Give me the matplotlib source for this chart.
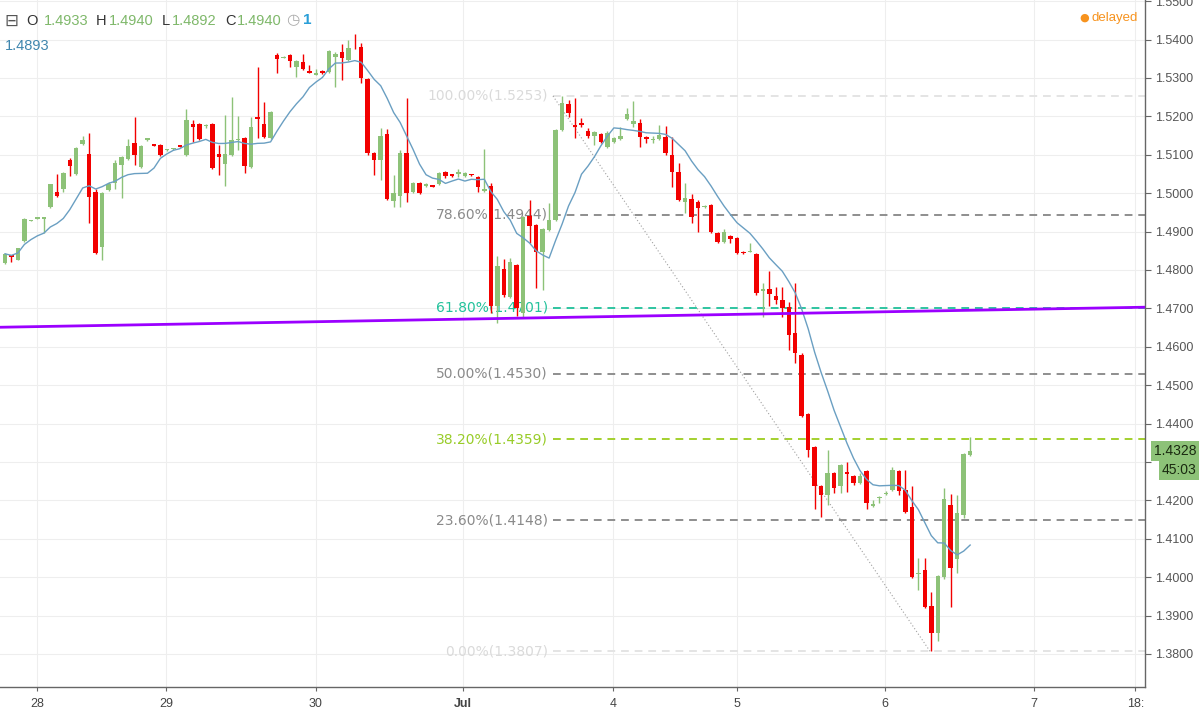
import numpy as np
import pandas as pd
import matplotlib
matplotlib.use('Agg')
import matplotlib.pyplot as plt
import matplotlib.transforms as mtransforms

# hourly candles (index 0 = first visible candle)
opens = [1.4818, 1.4839, 1.4826, 1.4875, 1.4928, 1.4933, 1.4933, 1.4964, 1.5003, 1.5011,
         1.5086, 1.5050, 1.5128, 1.5102, 1.5003, 1.4860, 1.5008, 1.5026, 1.5073, 1.5089,
         1.5131, 1.5068, 1.5138, 1.5127, 1.5125, 1.5112, 1.5114, 1.5125, 1.5099, 1.5180,
         1.5180, 1.5176, 1.5180, 1.5102, 1.5076, 1.5099, 1.5139, 1.5144, 1.5068, 1.5198,
         1.5180, 1.5144, 1.5360, 1.5352, 1.5360, 1.5329, 1.5342, 1.5318, 1.5308, 1.5318,
         1.5316, 1.5355, 1.5368, 1.5347, 1.5384, 1.5381, 1.5297, 1.5105, 1.5086, 1.5154,
         1.4980, 1.4993, 1.5105, 1.5003, 1.5026, 1.5019, 1.5021, 1.5024, 1.5055, 1.5049,
         1.5051, 1.5045, 1.5049, 1.5042, 1.5006, 1.5019, 1.4706, 1.4802, 1.4730, 1.4813,
         1.4688, 1.4940, 1.4917, 1.4847, 1.4904, 1.4930, 1.5164, 1.5232, 1.5177, 1.5183,
         1.5162, 1.5149, 1.5154, 1.5120, 1.5133, 1.5141, 1.5193, 1.5180, 1.5183, 1.5146,
         1.5139, 1.5141, 1.5146, 1.5099, 1.5055, 1.4977, 1.4985, 1.4977, 1.4964, 1.4969,
         1.4896, 1.4873, 1.4888, 1.4883, 1.4847, 1.4847, 1.4842, 1.4745, 1.4750, 1.4732,
         1.4722, 1.4704, 1.4636, 1.4579, 1.4425, 1.4339, 1.4237, 1.4214, 1.4271, 1.4237,
         1.4274, 1.4263, 1.4245, 1.4276, 1.4186, 1.4206, 1.4217, 1.4227, 1.4276, 1.4227,
         1.4183, 1.4008, 1.4019, 1.3925, 1.3855, 1.4000, 1.4188, 1.4047, 1.4162, 1.4318]
highs = [1.4844, 1.4840, 1.4858, 1.4935, 1.4930, 1.4939, 1.4939, 1.5025, 1.5050, 1.5055,
         1.5092, 1.5120, 1.5149, 1.5157, 1.5011, 1.5003, 1.5029, 1.5086, 1.5097, 1.5141,
         1.5198, 1.5125, 1.5144, 1.5128, 1.5127, 1.5116, 1.5118, 1.5126, 1.5219, 1.5190,
         1.5182, 1.5179, 1.5182, 1.5125, 1.5204, 1.5250, 1.5201, 1.5146, 1.5198, 1.5329,
         1.5237, 1.5213, 1.5365, 1.5356, 1.5362, 1.5346, 1.5362, 1.5334, 1.5323, 1.5320,
         1.5373, 1.5368, 1.5388, 1.5399, 1.5414, 1.5391, 1.5299, 1.5107, 1.5170, 1.5167,
         1.5047, 1.5112, 1.5248, 1.5029, 1.5029, 1.5027, 1.5022, 1.5055, 1.5057, 1.5050,
         1.5063, 1.5055, 1.5050, 1.5044, 1.5115, 1.5026, 1.4836, 1.4828, 1.4831, 1.4816,
         1.4941, 1.4982, 1.4920, 1.4910, 1.4974, 1.5167, 1.5253, 1.5243, 1.5248, 1.5196,
         1.5170, 1.5161, 1.5156, 1.5161, 1.5146, 1.5172, 1.5222, 1.5240, 1.5193, 1.5148,
         1.5149, 1.5177, 1.5175, 1.5146, 1.5079, 1.5026, 1.4998, 1.4982, 1.4969, 1.4971,
         1.4898, 1.4907, 1.4890, 1.4885, 1.4849, 1.4870, 1.4844, 1.4766, 1.4797, 1.4756,
         1.4756, 1.4717, 1.4766, 1.4584, 1.4427, 1.4341, 1.4240, 1.4331, 1.4273, 1.4295,
         1.4300, 1.4266, 1.4271, 1.4279, 1.4201, 1.4212, 1.4224, 1.4287, 1.4279, 1.4279,
         1.4237, 1.4050, 1.4050, 1.3961, 1.4006, 1.4232, 1.4216, 1.4214, 1.4324, 1.4365]
lows = [1.4816, 1.4821, 1.4825, 1.4873, 1.4927, 1.4932, 1.4896, 1.4962, 1.4990, 1.5003,
        1.5045, 1.5048, 1.5126, 1.4922, 1.4842, 1.4826, 1.5005, 1.5011, 1.4987, 1.5086,
        1.5073, 1.5066, 1.5137, 1.5123, 1.5097, 1.5110, 1.5113, 1.5120, 1.5097, 1.5133,
        1.5139, 1.5170, 1.5064, 1.5047, 1.5019, 1.5097, 1.5112, 1.5052, 1.5066, 1.5144,
        1.5144, 1.5142, 1.5313, 1.5351, 1.5329, 1.5302, 1.5321, 1.5313, 1.5307, 1.5311,
        1.5313, 1.5276, 1.5295, 1.5345, 1.5375, 1.5287, 1.5100, 1.5047, 1.5034, 1.4983,
        1.4964, 1.4964, 1.4977, 1.5000, 1.4998, 1.5016, 1.5016, 1.5021, 1.5039, 1.5043,
        1.5042, 1.5043, 1.5045, 1.5003, 1.5003, 1.4688, 1.4662, 1.4730, 1.4727, 1.4680,
        1.4675, 1.4870, 1.4753, 1.4748, 1.4901, 1.4927, 1.5161, 1.5198, 1.5144, 1.5172,
        1.5144, 1.5125, 1.5130, 1.5117, 1.5130, 1.5138, 1.5190, 1.5172, 1.5120, 1.5131,
        1.5131, 1.5138, 1.5099, 1.5016, 1.4980, 1.4948, 1.4922, 1.4899, 1.4962, 1.4896,
        1.4870, 1.4870, 1.4870, 1.4841, 1.4841, 1.4846, 1.4735, 1.4677, 1.4706, 1.4712,
        1.4677, 1.4592, 1.4558, 1.4417, 1.4313, 1.4177, 1.4157, 1.4188, 1.4219, 1.4219,
        1.4222, 1.4240, 1.4242, 1.4177, 1.4183, 1.4193, 1.4214, 1.4224, 1.4214, 1.4167,
        1.3997, 1.3967, 1.3919, 1.3807, 1.3834, 1.3995, 1.3922, 1.4011, 1.4154, 1.4315]
closes = [1.4842, 1.4834, 1.4857, 1.4933, 1.4929, 1.4938, 1.4938, 1.5024, 1.4993, 1.5053,
          1.5071, 1.5118, 1.5138, 1.4990, 1.4844, 1.5000, 1.5024, 1.5079, 1.5094, 1.5123,
          1.5099, 1.5123, 1.5143, 1.5124, 1.5099, 1.5115, 1.5117, 1.5121, 1.5190, 1.5172,
          1.5141, 1.5178, 1.5066, 1.5094, 1.5102, 1.5138, 1.5142, 1.5071, 1.5172, 1.5193,
          1.5146, 1.5211, 1.5349, 1.5355, 1.5344, 1.5344, 1.5323, 1.5314, 1.5313, 1.5313,
          1.5370, 1.5363, 1.5352, 1.5378, 1.5382, 1.5300, 1.5105, 1.5086, 1.5149, 1.4985,
          1.5000, 1.5105, 1.5000, 1.5026, 1.5000, 1.5024, 1.5017, 1.5052, 1.5045, 1.5045,
          1.5054, 1.5052, 1.5046, 1.5016, 1.5011, 1.4706, 1.4810, 1.4735, 1.4821, 1.4701,
          1.4938, 1.4914, 1.4847, 1.4907, 1.4930, 1.5164, 1.5235, 1.5209, 1.5172, 1.5177,
          1.5149, 1.5159, 1.5133, 1.5157, 1.5144, 1.5149, 1.5206, 1.5188, 1.5146, 1.5141,
          1.5142, 1.5151, 1.5105, 1.5055, 1.4982, 1.4987, 1.4938, 1.4961, 1.4967, 1.4899,
          1.4873, 1.4899, 1.4881, 1.4844, 1.4843, 1.4850, 1.4740, 1.4750, 1.4737, 1.4722,
          1.4701, 1.4631, 1.4584, 1.4420, 1.4331, 1.4237, 1.4214, 1.4271, 1.4232, 1.4292,
          1.4269, 1.4245, 1.4263, 1.4193, 1.4190, 1.4209, 1.4220, 1.4279, 1.4224, 1.4170,
          1.4000, 1.4012, 1.3922, 1.3855, 1.4003, 1.4204, 1.4024, 1.4167, 1.4321, 1.4328]

day_ticks = [4.94, 24.86, 48.0, 70.7, 93.9, 113.0, 135.9, 158.9, 174.5]
day_labels = ['28', '29', '30', 'Jul', '4', '5', '6', '7', '18:']
price_ticks = np.round(np.arange(1.38, 1.5501, 0.01), 2)

fib_names = ['100.00%', '78.60%', '61.80%', '50.00%', '38.20%', '23.60%', '0.00%']
fib_values = [1.5253, 1.4944, 1.4701, 1.4530, 1.4359, 1.4148, 1.3807]
fib_colors = ['#e4e4e4', '#8e8e8e', '#2ec4a0', '#8e8e8e', '#a3d02e', '#8e8e8e', '#e4e4e4']
fib_text_colors = ['#dadada', '#8a8a8a', '#22c29b', '#8a8a8a', '#98cc28', '#8a8a8a', '#dadada']
fib_start = 84.6
swing_x = [84.6, 142.8]
swing_y = [1.5253, 1.3807]

purple_x = [0, 149]
purple_y = [1.4651, 1.4695]

ma_period = 10
header_keys = ['O', 'H', 'L', 'C']
header_vals = ['1.4933', '1.4940', '1.4892', '1.4940']
ma_value = '1.4893'
countdown = '45:03'

up_col = '#8dc278'
down_col = '#f20000'

df = pd.DataFrame({'open': opens, 'high': highs, 'low': lows, 'close': closes})
df['ma'] = df['close'].rolling(ma_period, min_periods=1).mean()
x = np.arange(len(df))
up = df['close'] >= df['open']
cols = np.where(up, up_col, down_col)

fig = plt.figure(figsize=(12, 7.11), dpi=100)
ax = fig.add_axes([0, 0.0338, 0.9542, 0.9662])
ax.set_xlim(-0.77, 176.0)
ax.set_ylim(1.3714, 1.5503)

ax.set_yticks(price_ticks)
ax.set_xticks(day_ticks)
ax.set_xticklabels(day_labels)
ax.grid(True, color='#eeeeee', lw=0.8)
ax.set_axisbelow(True)

# fib levels
for name, val, lc, tc in zip(fib_names, fib_values, fib_colors, fib_text_colors):
    ax.plot([fib_start, 176.0], [val, val], color=lc, lw=1.4, ls=(0, (4, 3)), zorder=2)
    ax.text(fib_start - 0.8, val, '%s(%.4f)' % (name, val), color=tc, ha='right', va='center',
            fontsize=10, family='DejaVu Sans', zorder=2)

ax.plot(swing_x, swing_y, color='#a0a0a0', lw=0.8, ls=(0, (1, 2)), zorder=2)

# candles
ax.vlines(x, df['low'], df['high'], colors=cols, lw=1.0, zorder=3)
body = np.maximum((df['close'] - df['open']).abs(), 0.00012)
ax.bar(x, body, bottom=np.minimum(df['open'], df['close']), width=0.69, color=cols, zorder=4)

ax.plot(x, df['ma'], color='#6a9fc2', lw=1.0, zorder=5)
ax.axline((purple_x[0], purple_y[0]), (purple_x[1], purple_y[1]), color='#9b00ff', lw=2.0, zorder=6)

# axes look
for s in ['top', 'left']:
    ax.spines[s].set_visible(False)
for s in ['right', 'bottom']:
    ax.spines[s].set_color('#666666')
    ax.spines[s].set_linewidth(1.0)
ax.yaxis.tick_right()
ax.yaxis.set_major_formatter(plt.FuncFormatter(lambda v, p: '%.4f' % v))
ax.tick_params(axis='y', length=4, color='#666666', labelcolor='#555555', labelsize=9, pad=3)
ax.tick_params(axis='x', length=3, color='#666666', labelcolor='#444444', labelsize=9, pad=5)
for lab in ax.get_xticklabels() + ax.get_yticklabels():
    lab.set_family('Liberation Sans')
ax.get_xticklabels()[3].set_fontweight('bold')

# the price tags sit on top of the 1.4300 label, as in the original
last = df['close'].iloc[-1]
for lab, val in zip(ax.get_yticklabels(), price_ticks):
    if abs(val - last) < 0.004:
        lab.set_visible(False)

trans = mtransforms.blended_transform_factory(ax.transAxes, ax.transData)
tag = dict(boxstyle='square,pad=0.2', fc=up_col, ec='none')
ax.annotate('%.4f' % last, xy=(1, last), xycoords=trans, xytext=(51, 0), textcoords='offset pixels',
            ha='right', va='center', fontsize=10, color='#1a2a10', family='Liberation Sans',
            bbox=tag, annotation_clip=False)
ax.annotate(countdown, xy=(1, last), xycoords=trans, xytext=(51, -19), textcoords='offset pixels',
            ha='right', va='center', fontsize=10, color='#1a2a10', family='Liberation Sans',
            bbox=tag, annotation_clip=False)

# header
def px(xp, yp):
    return xp / 1200, 1 - yp / 711

fig.text(*px(4, 21), '\u229f', fontsize=12, color='#555555', va='center', family='DejaVu Sans')
key_x = [26, 96, 162, 225]
val_x = [44, 109, 172, 237]
for k, v, kx, vx in zip(header_keys, header_vals, key_x, val_x):
    fig.text(*px(kx, 21), k, fontsize=10.5, color='#333333', va='center', family='Liberation Sans')
    fig.text(*px(vx, 21), v, fontsize=10.5, color='#7fb86a', va='center', family='Liberation Sans')
fig.text(*px(286, 20), '\u25f7', fontsize=11, color='#aaaaaa', va='center', family='DejaVu Sans')
fig.text(*px(303, 20), '1', fontsize=11, color='#2a9fd8', va='center', fontweight='bold', family='Liberation Sans')
fig.text(*px(5, 46), ma_value, fontsize=10.5, color='#3f86ae', va='center', family='Liberation Sans')
fig.text(*px(1079, 18), '\u25cf', fontsize=8, color='#f7931e', va='center', family='DejaVu Sans')
fig.text(*px(1092, 18), 'delayed', fontsize=9.5, color='#f7931e', va='center', family='Liberation Sans')

fig.savefig('out.png', dpi=100)
